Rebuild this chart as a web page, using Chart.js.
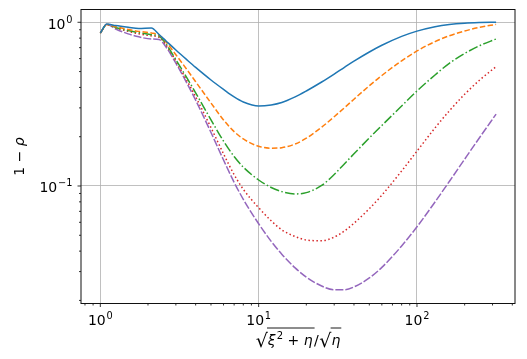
<!DOCTYPE html>
<html><head><meta charset="utf-8">
<script src="https://cdn.jsdelivr.net/npm/chart.js@4/dist/chart.umd.min.js"></script>
<style>html,body{margin:0;padding:0;background:#fff}canvas{display:block}</style>
</head><body>
<canvas id="c" width="527" height="359"></canvas>
<script>
// ---- data ----
const xVals = [1, 1.1, 1.25, 1.5, 1.75, 2.1, 2.35, 2.6, 3, 3.5, 4, 5, 6, 7, 8, 10, 12, 14, 17, 20, 25, 30, 35, 40, 50, 60, 80, 100, 130, 160, 200, 250, 316];
const seriesBlue   = [0.86, 0.975, 0.955, 0.932, 0.915, 0.923, 0.842, 0.769, 0.677, 0.593, 0.530, 0.444, 0.389, 0.350, 0.326, 0.308, 0.3126, 0.3236, 0.350, 0.3805, 0.4318, 0.483, 0.533, 0.579, 0.6586, 0.7237, 0.8202, 0.8834, 0.940, 0.9696, 0.9874, 0.9958, 1.0];
const seriesOrange = [0.86, 0.97, 0.94, 0.905, 0.88, 0.860, 0.836, 0.758, 0.6339, 0.5185, 0.4336, 0.3213, 0.2533, 0.2149, 0.1937, 0.1748, 0.1702, 0.1714, 0.1805, 0.1959, 0.2287, 0.265, 0.302, 0.339, 0.4094, 0.4732, 0.5817, 0.668, 0.7623, 0.827, 0.8848, 0.9322, 0.9709];
const seriesGreen  = [0.86, 0.97, 0.93, 0.89, 0.865, 0.840, 0.825, 0.737, 0.5911, 0.4620, 0.3710, 0.2536, 0.1880, 0.1514, 0.1304, 0.1088, 0.0979, 0.0924, 0.0894, 0.0911, 0.1007, 0.1175, 0.1373, 0.1573, 0.1964, 0.2342, 0.3080, 0.3805, 0.4766, 0.5616, 0.6447, 0.7216, 0.7907];
const seriesRed    = [0.86, 0.97, 0.925, 0.88, 0.85, 0.826, 0.810, 0.7268, 0.5786, 0.4454, 0.3507, 0.2273, 0.1571, 0.1174, 0.0954, 0.0737, 0.0613, 0.0540, 0.0491, 0.0468, 0.0463, 0.0487, 0.0533, 0.0592, 0.0727, 0.0879, 0.1235, 0.1633, 0.2264, 0.2875, 0.3633, 0.4454, 0.5362];
const seriesPurple = [0.86, 0.97, 0.91, 0.85, 0.815, 0.790, 0.785, 0.7066, 0.5625, 0.4300, 0.3343, 0.2122, 0.1441, 0.1053, 0.0829, 0.0588, 0.0459, 0.0383, 0.0316, 0.02777, 0.02449, 0.02326, 0.02326, 0.02418, 0.02742, 0.03182, 0.0430, 0.0563, 0.0799, 0.1065, 0.1458, 0.1992, 0.2749];

const xMajorTicks  = [1, 10, 100];
const xMajorExps   = ['0', '1', '2'];
const xMinorTicks  = [0.8, 0.9, 2, 3, 4, 5, 6, 7, 8, 9, 20, 30, 40, 50, 60, 70, 80, 90, 200, 300, 400];
const yMajorTicks  = [0.1, 1];
const yMajorExps   = ['−1', '0'];
const yMinorTicks  = [0.02, 0.03, 0.04, 0.05, 0.06, 0.07, 0.08, 0.09, 0.2, 0.3, 0.4, 0.5, 0.6, 0.7, 0.8, 0.9];

const X_MIN = 0.755, X_MAX = 416, Y_MIN = 0.01915, Y_MAX = 1.197;

const FONT = "'DejaVu Sans', sans-serif";
const toPts = arr => arr.map((v, i) => ({x: xVals[i], y: v}));

const styles = [
  {data: seriesBlue,   color: '#1f77b4', dash: []},
  {data: seriesOrange, color: '#ff7f0e', dash: [5.5, 2.4]},
  {data: seriesGreen,  color: '#2ca02c', dash: [9.6, 2.4, 1.5, 2.4]},
  {data: seriesRed,    color: '#d62728', dash: [1.5, 2.5]},
  {data: seriesPurple, color: '#9467bd', dash: [8, 2]}
];

function tickList(majors, minors) {
  return majors.map(v => ({value: v, major: true})).concat(minors.map(v => ({value: v, major: false})))
    .sort((a, b) => a.value - b.value);
}
function isMajor(v, majors) { return majors.some(m => Math.abs(m - v) / m < 1e-9); }

// "10" with a raised exponent, mathtext-like
function powLabel(ctx, exp, x, y, align) {
  const mf = '14px ' + FONT, sf = '9.8px ' + FONT;
  ctx.font = mf; const w1 = ctx.measureText('10').width;
  ctx.font = sf; const w2 = ctx.measureText(exp).width;
  const gap = 0.8;
  const tot = w1 + gap + w2;
  let sx = align === 'center' ? x - tot / 2 : x - tot;
  ctx.textAlign = 'left';
  ctx.font = mf; ctx.fillText('10', sx, y);
  ctx.font = sf; ctx.fillText(exp, sx + w1 + gap, y - 6);
}

const decorPlugin = {
  id: 'decor',
  afterDraw(chart) {
    const ctx = chart.ctx, a = chart.chartArea;
    const xs = chart.scales.x, ys = chart.scales.y;
    ctx.save();
    // ticks
    ctx.strokeStyle = '#000';
    ctx.lineWidth = 0.8;
    xMajorTicks.concat(xMinorTicks).forEach(v => {
      const p = xs.getPixelForValue(v);
      const len = isMajor(v, xMajorTicks) ? 3.5 : 2;
      ctx.beginPath(); ctx.moveTo(p, a.bottom); ctx.lineTo(p, a.bottom + len); ctx.stroke();
    });
    yMajorTicks.concat(yMinorTicks).forEach(v => {
      const p = ys.getPixelForValue(v);
      const len = isMajor(v, yMajorTicks) ? 3.5 : 2;
      ctx.beginPath(); ctx.moveTo(a.left, p); ctx.lineTo(a.left - len, p); ctx.stroke();
    });
    // spines
    ctx.lineWidth = 1;
    ctx.strokeStyle = '#111';
    ctx.strokeRect(a.left, a.top, a.right - a.left, a.bottom - a.top);

    ctx.fillStyle = '#000';
    ctx.textBaseline = 'alphabetic';
    // tick labels
    xMajorTicks.forEach((v, i) => powLabel(ctx, xMajorExps[i], xs.getPixelForValue(v), a.bottom + 21.5, 'center'));
    yMajorTicks.forEach((v, i) => powLabel(ctx, yMajorExps[i], a.left - 8.5, ys.getPixelForValue(v) + 6.5, 'right'));

    // y-axis label: 1 − ρ (rotated)
    ctx.save();
    ctx.translate(24, (a.top + a.bottom) / 2);
    ctx.rotate(-Math.PI / 2);
    const p1 = '1 − ';
    ctx.font = '14px ' + FONT;
    const w1 = ctx.measureText(p1).width;
    ctx.font = 'italic 14px ' + FONT;
    const w2 = ctx.measureText('ρ').width;
    let sx = -(w1 + w2) / 2;
    ctx.textAlign = 'left';
    ctx.font = '14px ' + FONT;
    ctx.fillText(p1, sx, 0);
    ctx.font = 'italic 14px ' + FONT;
    ctx.fillText('ρ', sx + w1, 0);
    ctx.restore();

    // x-axis label: √(ξ² + η) / √η
    const base = 345;
    const nf = '14px ' + FONT, itf = 'italic 14px ' + FONT, sf = '10px ' + FONT, rf = '19px ' + FONT;
    const parts = [
      {t: '√', f: rf, dy: 1.5, rad: true},
      {t: 'ξ', f: itf, dy: 0, bar: 1},
      {t: '2', f: sf, dy: -6.5, bar: 1, pad: 1},
      {t: '+', f: nf, dy: 0, bar: 1, pad: 3.5},
      {t: 'η', f: itf, dy: 0, bar: 1, pad: 1},
      {t: '/', f: nf, dy: 0, pad: 0.5},
      {t: '√', f: rf, dy: 1.5, rad: true},
      {t: 'η', f: itf, dy: 0, bar: 2}
    ];
    let total = 0;
    parts.forEach(p => { ctx.font = p.f; p.w = ctx.measureText(p.t).width + 2 * (p.pad || 0); total += p.w; });
    let cx = (a.left + a.right) / 2 - total / 2;
    const bars = {};
    parts.forEach(p => {
      ctx.font = p.f;
      ctx.textAlign = 'left';
      ctx.fillText(p.t, cx + (p.pad || 0), base + p.dy);
      if (p.bar) {
        if (!bars[p.bar]) bars[p.bar] = [cx, cx + p.w];
        else bars[p.bar][1] = cx + p.w;
      }
      cx += p.w;
    });
    ctx.lineWidth = 0.9;
    ctx.strokeStyle = '#000';
    Object.values(bars).forEach(b => {
      ctx.beginPath(); ctx.moveTo(b[0] - 0.8, base - 17); ctx.lineTo(b[1] + 1, base - 17); ctx.stroke();
    });
    ctx.restore();
  }
};

new Chart(document.getElementById('c'), {
  type: 'line',
  data: {
    datasets: styles.map(s => ({
      data: toPts(s.data),
      borderColor: s.color,
      backgroundColor: s.color,
      borderDash: s.dash,
      borderWidth: 1.5,
      pointRadius: 0,
      fill: false,
      cubicInterpolationMode: 'monotone'
    }))
  },
  options: {
    responsive: false,
    animation: false,
    devicePixelRatio: 1,
    layout: {padding: {left: 0, right: 12, top: 9.5, bottom: 0}},
    plugins: {legend: {display: false}, tooltip: {enabled: false}},
    scales: {
      x: {
        type: 'logarithmic', min: X_MIN, max: X_MAX,
        afterBuildTicks: s => { s.ticks = tickList(xMajorTicks, xMinorTicks); },
        afterFit: s => { s.height = 55.5; },
        ticks: {display: false, autoSkip: false},
        grid: {
          drawTicks: false, lineWidth: 0.8,
          color: c => (c.tick && isMajor(c.tick.value, xMajorTicks)) ? '#b0b0b0' : 'rgba(0,0,0,0)'
        },
        border: {display: false}
      },
      y: {
        type: 'logarithmic', min: Y_MIN, max: Y_MAX,
        afterBuildTicks: s => { s.ticks = tickList(yMajorTicks, yMinorTicks); },
        afterFit: s => { s.width = 81; },
        ticks: {display: false, autoSkip: false},
        grid: {
          drawTicks: false, lineWidth: 0.8,
          color: c => (c.tick && isMajor(c.tick.value, yMajorTicks)) ? '#b0b0b0' : 'rgba(0,0,0,0)'
        },
        border: {display: false}
      }
    }
  },
  plugins: [decorPlugin]
});
</script>
</body></html>
